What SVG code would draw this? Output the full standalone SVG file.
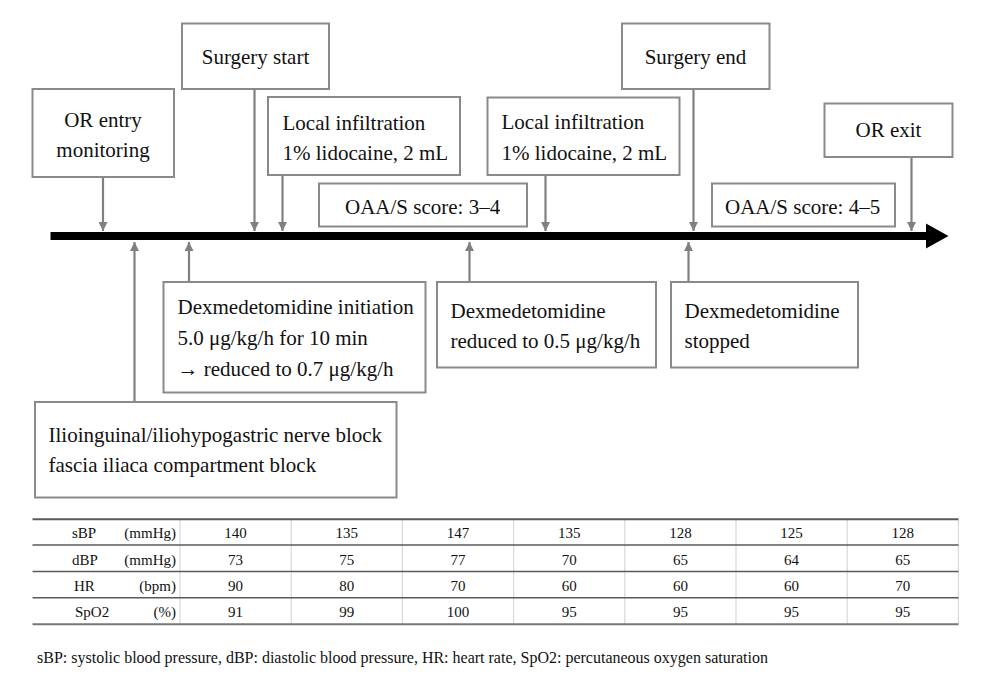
<svg xmlns="http://www.w3.org/2000/svg" width="986" height="694" viewBox="0 0 986 694">
<defs>
<style>
.box{fill:#fff;stroke:#8a8a8a;stroke-width:2}
.t{font-family:'Liberation Serif',serif;font-size:21px;fill:#111}
.c{text-anchor:middle}
.tb{font-family:'Liberation Serif',serif;font-size:15px;fill:#111}
.conn{stroke:#808080;stroke-width:2.2;fill:none}
.hl{stroke:#5a5a5a;stroke-width:1.6}
.vl{stroke:#d8d8d8;stroke-width:1.2}
</style>
<marker id="ah" viewBox="0 0 10 10" refX="10" refY="5" markerWidth="9" markerHeight="9" markerUnits="userSpaceOnUse" orient="auto">
<path d="M0,0 L10,5 L0,10 Z" fill="#808080"/>
</marker>
</defs>
<rect width="986" height="694" fill="#fff"/>

<g id="axis">
<rect x="50.5" y="232" width="876" height="8" fill="#000"/>
<polygon points="926,223.5 948.5,236 926,248.5" fill="#000"/>
</g>

<g id="connectors">
<line class="conn" x1="103" y1="177" x2="103" y2="231" marker-end="url(#ah)"/>
<line class="conn" x1="254.5" y1="89" x2="254.5" y2="231" marker-end="url(#ah)"/>
<line class="conn" x1="282.5" y1="175" x2="282.5" y2="231" marker-end="url(#ah)"/>
<line class="conn" x1="545.5" y1="175" x2="545.5" y2="231" marker-end="url(#ah)"/>
<line class="conn" x1="693.5" y1="89" x2="693.5" y2="231" marker-end="url(#ah)"/>
<line class="conn" x1="911.5" y1="157" x2="911.5" y2="231" marker-end="url(#ah)"/>
<line class="conn" x1="134.5" y1="402" x2="134.5" y2="242" marker-end="url(#ah)"/>
<line class="conn" x1="189" y1="282" x2="189" y2="242" marker-end="url(#ah)"/>
<line class="conn" x1="469.5" y1="282" x2="469.5" y2="242" marker-end="url(#ah)"/>
<line class="conn" x1="688.5" y1="282" x2="688.5" y2="242" marker-end="url(#ah)"/>
</g>

<g font-family="Liberation Serif, serif">
<g id="or-entry">
<rect class="box" x="32.5" y="89" width="141.5" height="88"/>
<text class="t c" x="103" y="127">OR entry</text>
<text class="t c" x="103" y="157">monitoring</text>
</g>
<g id="surgery-start">
<rect class="box" x="182" y="23.5" width="147" height="65.5"/>
<text class="t c" x="255.5" y="64">Surgery start</text>
</g>
<g id="local-1">
<rect class="box" x="268" y="97" width="192" height="78"/>
<text class="t" x="282.5" y="129.5">Local infiltration</text>
<text class="t" x="282.5" y="159.5">1% lidocaine, 2 mL</text>
</g>
<g id="oaas-1">
<rect class="box" x="319" y="183.5" width="208" height="43"/>
<text class="t" x="345" y="214">OAA/S score: 3–4</text>
</g>
<g id="local-2">
<rect class="box" x="487.5" y="97.5" width="192" height="77.5"/>
<text class="t" x="501.5" y="129">Local infiltration</text>
<text class="t" x="501.5" y="159.5">1% lidocaine, 2 mL</text>
</g>
<g id="surgery-end">
<rect class="box" x="622" y="23.5" width="147.5" height="65.5"/>
<text class="t c" x="695.5" y="64">Surgery end</text>
</g>
<g id="oaas-2">
<rect class="box" x="712" y="183.5" width="183" height="43"/>
<text class="t" x="725" y="214">OAA/S score: 4–5</text>
</g>
<g id="or-exit">
<rect class="box" x="824.5" y="103.5" width="128" height="53.5"/>
<text class="t c" x="888.5" y="137">OR exit</text>
</g>
<g id="dex-init">
<rect class="box" x="163.5" y="282" width="262" height="110.5"/>
<text class="t" x="177.5" y="313.5">Dexmedetomidine initiation</text>
<text class="t" x="177.5" y="344.5">5.0 μg/kg/h for 10 min</text>
<text class="t" x="177.5" y="375.5">→ reduced to 0.7 μg/kg/h</text>
</g>
<g id="nerve-block">
<rect class="box" x="35" y="402" width="361.5" height="95.5"/>
<text class="t" x="48.5" y="441.5">Ilioinguinal/iliohypogastric nerve block</text>
<text class="t" x="48.5" y="472">fascia iliaca compartment block</text>
</g>
<g id="dex-reduced">
<rect class="box" x="437" y="282" width="219" height="85.5"/>
<text class="t" x="450.5" y="317.5">Dexmedetomidine</text>
<text class="t" x="450.5" y="347.5">reduced to 0.5 μg/kg/h</text>
</g>
<g id="dex-stopped">
<rect class="box" x="671" y="282" width="187" height="85.5"/>
<text class="t" x="684.5" y="317.5">Dexmedetomidine</text>
<text class="t" x="684.5" y="347.5">stopped</text>
</g>

<g id="table">
<line class="vl" x1="180" y1="520" x2="180" y2="624"/>
<line class="vl" x1="291.2" y1="520" x2="291.2" y2="624"/>
<line class="vl" x1="402.4" y1="520" x2="402.4" y2="624"/>
<line class="vl" x1="513.6" y1="520" x2="513.6" y2="624"/>
<line class="vl" x1="624.8" y1="520" x2="624.8" y2="624"/>
<line class="vl" x1="736" y1="520" x2="736" y2="624"/>
<line class="vl" x1="847.2" y1="520" x2="847.2" y2="624"/>
<line class="vl" x1="958.4" y1="520" x2="958.4" y2="624"/>
<line class="hl" x1="32.5" y1="519.3" x2="958.5" y2="519.3" style="stroke-width:2"/>
<line class="hl" x1="32.5" y1="545" x2="958.5" y2="545"/>
<line class="hl" x1="32.5" y1="571.5" x2="958.5" y2="571.5"/>
<line class="hl" x1="32.5" y1="597.7" x2="958.5" y2="597.7"/>
<line class="hl" x1="32.5" y1="624.3" x2="958.5" y2="624.3" style="stroke:#777;stroke-width:2"/>

<text class="tb" x="72" y="538">sBP</text><text class="tb" x="176" y="538" text-anchor="end">(mmHg)</text>
<text class="tb" x="72" y="564.5">dBP</text><text class="tb" x="176" y="564.5" text-anchor="end">(mmHg)</text>
<text class="tb" x="74" y="590.5">HR</text><text class="tb" x="176" y="590.5" text-anchor="end">(bpm)</text>
<text class="tb" x="75" y="617">SpO2</text><text class="tb" x="176" y="617" text-anchor="end">(%)</text>

<g class="tb" text-anchor="middle">
<text x="235.6" y="538">140</text><text x="346.8" y="538">135</text><text x="458" y="538">147</text><text x="569.2" y="538">135</text><text x="680.4" y="538">128</text><text x="791.6" y="538">125</text><text x="902.8" y="538">128</text>
<text x="235.6" y="564.5">73</text><text x="346.8" y="564.5">75</text><text x="458" y="564.5">77</text><text x="569.2" y="564.5">70</text><text x="680.4" y="564.5">65</text><text x="791.6" y="564.5">64</text><text x="902.8" y="564.5">65</text>
<text x="235.6" y="590.5">90</text><text x="346.8" y="590.5">80</text><text x="458" y="590.5">70</text><text x="569.2" y="590.5">60</text><text x="680.4" y="590.5">60</text><text x="791.6" y="590.5">60</text><text x="902.8" y="590.5">70</text>
<text x="235.6" y="617">91</text><text x="346.8" y="617">99</text><text x="458" y="617">100</text><text x="569.2" y="617">95</text><text x="680.4" y="617">95</text><text x="791.6" y="617">95</text><text x="902.8" y="617">95</text>
</g>
</g>

<text id="caption" class="tb" x="37" y="663" style="font-size:16px">sBP: systolic blood pressure, dBP: diastolic blood pressure, HR: heart rate, SpO2: percutaneous oxygen saturation</text>
</g>
</svg>
